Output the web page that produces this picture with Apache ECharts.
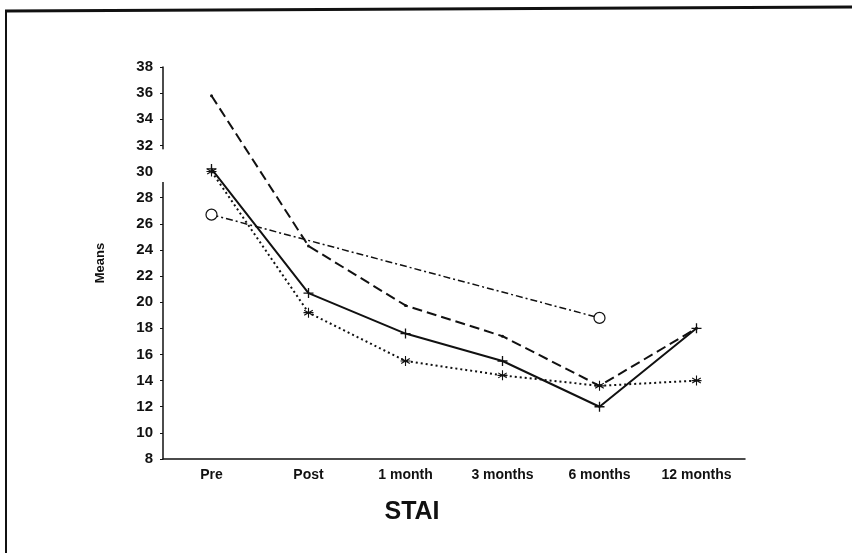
<!DOCTYPE html>
<html><head><meta charset="utf-8">
<script src="https://cdn.jsdelivr.net/npm/echarts@6/dist/echarts.min.js"></script>
<style>html,body{margin:0;padding:0;background:#fff}#c{width:852px;height:553px}</style>
</head><body><div id="c"></div>
<script>
const categories = ['Pre', 'Post', '1 month', '3 months', '6 months', '12 months'];
const solidPlus = [30.2, 20.7, 17.6, 15.5, 12.0, 18.0];
const dashed = [35.8, 24.3, 19.75, 17.4, 13.6, 18.0];
const dottedStar = [30.0, 19.2, 15.5, 14.4, 13.6, 14.0];
const dashDotCircle = [26.7, null, null, null, 18.8, null];
const yMin = 8, yMax = 38, yStep = 2;

const PLUS = 'path://M0,-5L0,5M-5,0L5,0';
const STAR = 'path://M0,-5L0,5M-4.3,-2.5L4.3,2.5M-4.3,2.5L4.3,-2.5M-5,0L5,0';
const font = 'Liberation Sans, Arial, sans-serif';

const chart = echarts.init(document.getElementById('c'), null, {renderer: 'canvas'});
chart.setOption({
  backgroundColor: '#fff',
  animation: false,
  grid: {left: 163, right: 107, top: 67, bottom: 94},
  xAxis: {
    type: 'category', data: categories, boundaryGap: true,
    axisLine: {lineStyle: {color: '#111', width: 1.5}},
    axisTick: {alignWithLabel: true, length: 4, lineStyle: {color: '#111'}},
    axisLabel: {color: '#111', fontFamily: font, fontWeight: 'bold', fontSize: 14, margin: 9},
    name: 'STAI', nameLocation: 'middle', nameGap: 41,
    nameTextStyle: {color: '#111', fontFamily: font, fontSize: 25, fontWeight: 'bold', padding: [0, 84, 0, 0]}
  },
  yAxis: {
    type: 'value', min: yMin, max: yMax, interval: yStep,
    splitLine: {show: false},
    axisLine: {show: true, lineStyle: {color: '#111', width: 1.5}},
    axisTick: {show: true, length: 3, lineStyle: {color: '#111'}},
    axisLabel: {color: '#111', fontFamily: font, fontWeight: 'bold', fontSize: 15, margin: 10},
    name: 'Means', nameLocation: 'middle', nameGap: 56, nameRotate: 90,
    nameTextStyle: {color: '#111', fontFamily: font, fontSize: 13, fontWeight: 'bold'}
  },
  series: [
    {type: 'line', data: solidPlus, symbol: PLUS, symbolSize: 10,
     lineStyle: {color: '#111', width: 2, type: 'solid'},
     itemStyle: {color: '#111', borderColor: '#111', borderWidth: 1.3}},
    {type: 'line', data: dashed, symbol: 'circle', symbolSize: 3,
     lineStyle: {color: '#111', width: 2, type: [10, 5]},
     itemStyle: {color: '#111', borderColor: '#111', borderWidth: 0}},
    {type: 'line', data: dottedStar, symbol: STAR, symbolSize: 10,
     lineStyle: {color: '#111', width: 2, type: [2, 3]},
     itemStyle: {color: '#111', borderColor: '#111', borderWidth: 1.1}},
    {type: 'line', data: dashDotCircle, connectNulls: true, symbol: 'circle', symbolSize: 11,
     showSymbol: true,
     lineStyle: {color: '#111', width: 1.5, type: [7, 3, 2, 3]},
     itemStyle: {color: '#fff', borderColor: '#111', borderWidth: 1.2}}
  ]
});

// decorative axis gap and frame
const yTop = chart.convertToPixel({yAxisIndex: 0}, 31.7);
const yBot = chart.convertToPixel({yAxisIndex: 0}, 29.2);
chart.setOption({
  graphic: [
    {type: 'rect', shape: {x: 159, y: yTop, width: 8, height: yBot - yTop}, style: {fill: '#fff'}, z: 100},
    {type: 'line', shape: {x1: 5, y1: 11, x2: 852, y2: 7}, style: {stroke: '#111', lineWidth: 3}, z: 100},
    {type: 'line', shape: {x1: 6, y1: 10, x2: 6, y2: 553}, style: {stroke: '#111', lineWidth: 2}, z: 100}
  ]
});
</script>
</body></html>
